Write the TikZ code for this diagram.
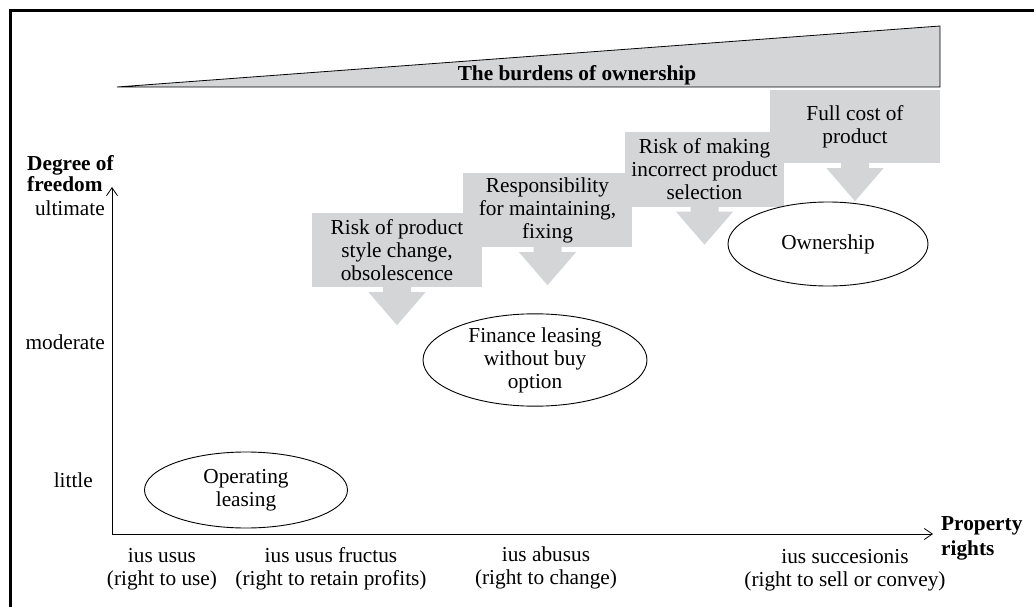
\documentclass[tikz,border=0pt]{standalone}
\usepackage{fontspec}
\setmainfont{Liberation Serif}
\usetikzlibrary{shapes.geometric, arrows.meta}
\definecolor{burdengray}{RGB}{212,213,215}
\newcommand{\dropArrow}[1]{\fill[burdengray] (#1.south) ++(-14,0) -- ++(0,5) -- ++(-14.5,0) -- ++(28.5,33) -- ++(28.5,-33) -- ++(-14.5,0) -- ++(0,-5) -- cycle;}
\begin{document}
\begin{tikzpicture}[>={Straight Barb[length=8pt, width=11pt, line width=0.8pt]}, x=1pt, y=-1pt,
    font=\fontsize{21.3}{23}\selectfont,
    burden/.style={fill=burdengray, align=center, inner sep=0pt, minimum height=74pt},
    oval/.style={ellipse, draw, line width=0.9pt, align=center, inner sep=0pt},
    axislabel/.style={align=center, inner sep=0pt}]
    \useasboundingbox (0,0) rectangle (1034,607);
    \draw[line width=2.2pt] (10.5,607) -- (10.5,10.5) -- (1034,10.5);
    \draw[fill=burdengray, line width=0.8pt] (117,87) -- (940,26) -- (940,87) -- cycle;
    \node[font=\fontsize{21.3}{23}\selectfont\bfseries] (burdens) at (577,75) {The burdens of ownership};
    \coordinate (O) at (112,534);
    \coordinate (ytop) at (112,187);
    \coordinate (xend) at (933,534);
    \draw[->, line width=0.8pt] (O) -- (ytop);
    \draw[->, line width=0.8pt] (O) -- (xend);
    \node[anchor=west, align=left, inner sep=0pt, font=\fontsize{21.3}{21}\selectfont\bfseries] (freedom) at (27,174) {Degree of\\freedom};
    \node[anchor=west, align=left, inner sep=0pt, font=\fontsize{21.3}{25}\selectfont\bfseries] (rights) at (941,538) {Property\\rights};
    \node[anchor=east, inner sep=0pt] (ultimate) at (105,208) {ultimate};
    \node[anchor=east, inner sep=0pt] (moderate) at (105,342) {moderate};
    \node[anchor=east, inner sep=0pt] (little) at (93,480) {little};
    \node[axislabel] (usus) at (162,569) {ius usus\\(right to use)};
    \node[axislabel] (fructus) at (331,569) {ius usus fructus\\(right to retain profits)};
    \node[axislabel] (abusus) at (546,568) {ius abusus\\(right to change)};
    \node[axislabel] (succesionis) at (845,570) {ius succesionis\\(right to sell or convey)};
    \node[burden, minimum width=170pt] (b1) at (397,250) {Risk of product\\style change,\\obsolescence};
    \node[burden, minimum width=169pt] (b2) at (547.5,210) {Responsibility\\for maintaining,\\fixing};
    \node[burden, minimum width=159pt] (b3) at (704.5,169.5) {Risk of making\\incorrect product\\selection};
    \node[burden, minimum width=170pt, minimum height=73pt] (b4) at (855,126.5) {Full cost of\\product};
    \dropArrow{b1}
    \dropArrow{b2}
    \dropArrow{b3}
    \dropArrow{b4}
    \node[oval, minimum width=203pt, minimum height=76pt] (operating) at (246,490) {Operating\\leasing};
    \node[oval, minimum width=224pt, minimum height=85pt] (finance) at (535,360) {Finance leasing\\without buy\\option};
    \node[oval, minimum width=200pt, minimum height=84pt] (ownership) at (828,244) {Ownership};
\end{tikzpicture}
\end{document}
